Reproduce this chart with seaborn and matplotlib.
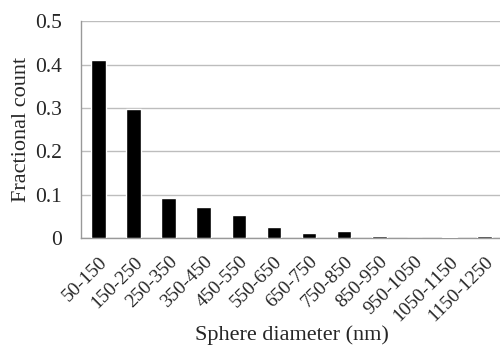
import numpy as np
import pandas as pd
import seaborn as sns
import matplotlib
matplotlib.use('Agg')
import matplotlib.pyplot as plt
from matplotlib.ticker import FixedLocator

# Data
bins = ['50-150', '150-250', '250-350', '350-450', '450-550', '550-650',
        '650-750', '750-850', '850-950', '950-1050', '1050-1150', '1150-1250']
fraction = [0.411, 0.299, 0.093, 0.072, 0.054, 0.026,
            0.012, 0.016, 0.005, 0.0, 0.002, 0.004]

data = pd.DataFrame({'bin': bins, 'fraction': fraction})

sns.set_style('white')
plt.rcParams['font.family'] = ['Liberation Serif', 'DejaVu Serif']

fig = plt.figure(figsize=(5.0, 3.46), dpi=100)
ax = fig.add_axes([0.162, 0.312, 0.842, 0.626])

sns.barplot(data=data, x='bin', y='fraction', color='black', width=0.42,
            saturation=1, ax=ax, zorder=3)

ax.set_ylim(0, 0.5)
ax.set_xlim(-0.5, len(bins) - 0.5)
ax.set_yticks([0, 0.1, 0.2, 0.3, 0.4, 0.5])
ax.set_yticklabels(['0', '0.1', '0.2', '0.3', '0.4', '0.5'], fontsize=15.5)
ax.yaxis.grid(True, color='#bdbdbd', linewidth=1, zorder=0)
ax.tick_params(axis='y', length=0, pad=14)

# tick marks between categories, pointing up
ax.xaxis.set_minor_locator(FixedLocator(np.arange(0.5, len(bins) - 0.5, 1)))
ax.tick_params(axis='x', which='major', length=0, pad=11)
ax.tick_params(axis='x', which='minor', direction='in', length=4,
               color='#999999', width=1)
plt.setp(ax.get_xticklabels(), rotation=45, ha='right',
         rotation_mode='anchor', fontsize=14)

for side in ['top', 'right']:
    ax.spines[side].set_visible(False)
for side in ['left', 'bottom']:
    ax.spines[side].set_color('#999999')
    ax.spines[side].set_linewidth(1)

ax.set_xlabel('Sphere diameter (nm)', fontsize=16, labelpad=0)
ax.set_ylabel('Fractional count', fontsize=16, labelpad=3)

fig.savefig('out.png', dpi=100)
